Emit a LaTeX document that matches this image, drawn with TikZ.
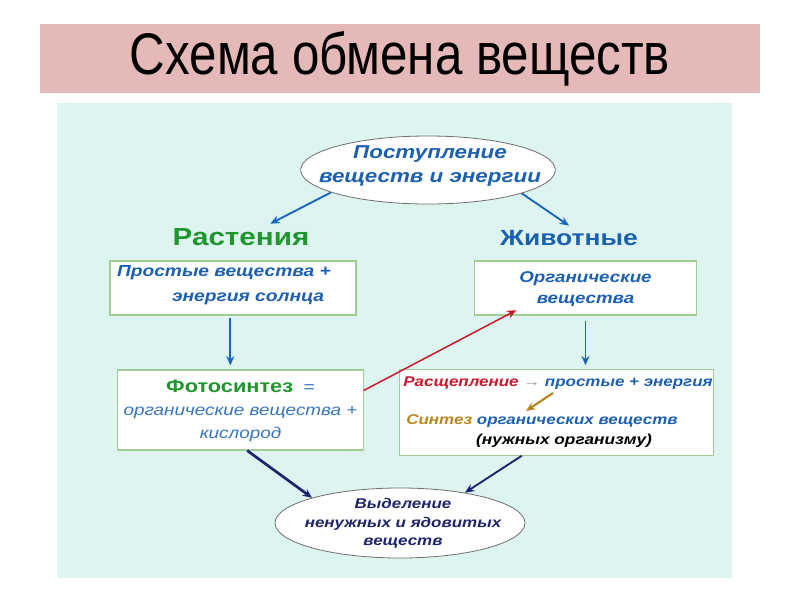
\documentclass[tikz,border=0pt]{standalone}
\usepackage{fontspec}
\setmainfont[FakeStretch=1.2]{Liberation Sans}
\newfontfamily\titlefont[FakeStretch=0.84]{Liberation Sans}
\usetikzlibrary{shapes.geometric,arrows.meta}

\begin{document}
\begin{tikzpicture}[x=0.75pt,y=0.75pt,yscale=-1,
  box/.style={draw={rgb, 255:red, 160; green, 205; blue, 150}, fill=white, line width=0.8pt, inner sep=0pt},
  oval/.style={ellipse, draw={rgb, 255:red, 110; green, 110; blue, 110}, fill=white, line width=0.6pt, inner sep=0pt},
  lbl/.style={font=\fontsize{14}{18}\selectfont\bfseries\itshape, align=center, inner sep=0.75pt},
  blutxt/.style={color={rgb, 255:red, 28; green, 96; blue, 178}},
  navytxt/.style={color={rgb, 255:red, 30; green, 38; blue, 105}},
  arr/.style={-{Stealth[length=7pt,width=6pt]}, line width=1.4pt},
]
\useasboundingbox (0,0) rectangle (800,600);
\fill [white] (0,0) rectangle (800,600);

%Shape: Rectangle (title band)
\fill [fill={rgb, 255:red, 230; green, 185; blue, 185 }] (40,24) rectangle (760,93);
%Shape: Rectangle (panel)
\fill [fill={rgb, 255:red, 221; green, 244; blue, 240 }] (57,103) rectangle (732,578);

% Text Node
\node (title) at (400,59) {\titlefont\fontsize{44}{50}\selectfont Схема обмена веществ};

%Shape: Ellipse
\node [oval, minimum width=191pt, minimum height=51pt] (intake) at (428,170) {};
\node [lbl, blutxt] (intaketxt) at (430,166) {Поступление\\веществ и энергии};

% Text Node
\node [font=\fontsize{18.5}{22}\selectfont\bfseries, color={rgb, 255:red, 30; green, 150; blue, 45}] (plants) at (241,237) {Растения};
% Text Node
\node [blutxt, font=\fontsize{16.5}{20}\selectfont\bfseries] (animals) at (569,238) {Животные};

%Shape: Rectangle
\node [box, minimum width=184.5pt, minimum height=40.5pt] (simple) at (233,288) {};
\node [lbl, blutxt, font=\fontsize{12}{18.5}\selectfont\bfseries\itshape] (simpletxt) at (224,285) {Простые вещества +\\\hspace*{36pt}энергия солнца};
%Shape: Rectangle
\node [box, minimum width=167pt, minimum height=40.5pt] (organic) at (585.5,288) {};
\node [lbl, blutxt, font=\fontsize{11.7}{16}\selectfont\bfseries\itshape] (organictxt) at (585.5,289) {Органические\\вещества};

%Shape: Rectangle
\node [box, minimum width=184pt, minimum height=60pt] (photo) at (240.5,410) {};
\node [inner sep=0.75pt, align=center, font=\fontsize{11.8}{17.5}\selectfont] (phototxt) at (240.5,411) {{\fontsize{13.6}{18}\selectfont\bfseries\color[RGB]{30,150,45}Фотосинтез}\,\, {\fontsize{12}{18}\selectfont\color[RGB]{40,110,190}=}\\
{\itshape\color[RGB]{55,118,190}органические вещества +}\\
{\itshape\color[RGB]{55,118,190}кислород}};

%Shape: Rectangle
\node [box, minimum width=235pt, minimum height=64pt] (split) at (556.5,412.5) {};
% Text Node
\node [inner sep=0.75pt, font=\fontsize{10.6}{13}\selectfont\bfseries\itshape] (splittxt) at (558,383) {\color[RGB]{200,25,45}Расщепление {\color[RGB]{150,150,160}\normalfont→} \color[RGB]{28,96,178}простые + энергия};
% Text Node
\node [inner sep=0.75pt, font=\fontsize{10.6}{13}\selectfont\bfseries\itshape] (synthtxt) at (542,421) {\color[RGB]{185,135,30}Синтез \color[RGB]{28,96,178}органических веществ};
% Text Node
\node [inner sep=0.75pt, font=\fontsize{10.8}{13}\selectfont\bfseries\itshape] (needtxt) at (564,441) {(нужных организму)};

%Shape: Ellipse
\node [oval, minimum width=187.5pt, minimum height=52.5pt] (waste) at (400,523) {};
\node [lbl, navytxt, font=\fontsize{10.6}{14}\selectfont\bfseries\itshape] (wastetxt) at (403,523.5) {Выделение\\ненужных и ядовитых\\веществ};

\coordinate (brownA) at (553,393);
\coordinate (brownB) at (526,411);

%Straight Lines
\draw [arr, color={rgb, 255:red, 25; green, 100; blue, 190}] (intake.193) -- ([xshift=22pt]plants.north);
\draw [arr, color={rgb, 255:red, 25; green, 100; blue, 190}] (intake.346) -- ([xshift=0pt]animals.north);
\draw [arr, color={rgb, 255:red, 25; green, 100; blue, 190}, shorten <=2pt, shorten >=3pt] ([xshift=-2pt]simple.south) -- ([xshift=-2pt]simple.south |- photo.north);
\draw [arr, color={rgb, 255:red, 25; green, 100; blue, 190}, shorten <=4pt, shorten >=3pt] (organic.south) -- (organic.south |- split.north);
\draw [arr, line width=1.1pt, color={rgb, 255:red, 200; green, 25; blue, 40}] (photo.9) -- ([xshift=32pt,yshift=-4pt]organic.south west);
\draw [arr, line width=1.6pt, color={rgb, 255:red, 185; green, 135; blue, 30}] (brownA) -- (brownB);
\draw [arr, line width=2pt, color={rgb, 255:red, 25; green, 35; blue, 110}] ([xshift=5pt]photo.south) -- (waste.164);
\draw [arr, color={rgb, 255:red, 25; green, 35; blue, 110}] ([xshift=-26pt]split.south) -- (waste.25);

\end{tikzpicture}
\end{document}
